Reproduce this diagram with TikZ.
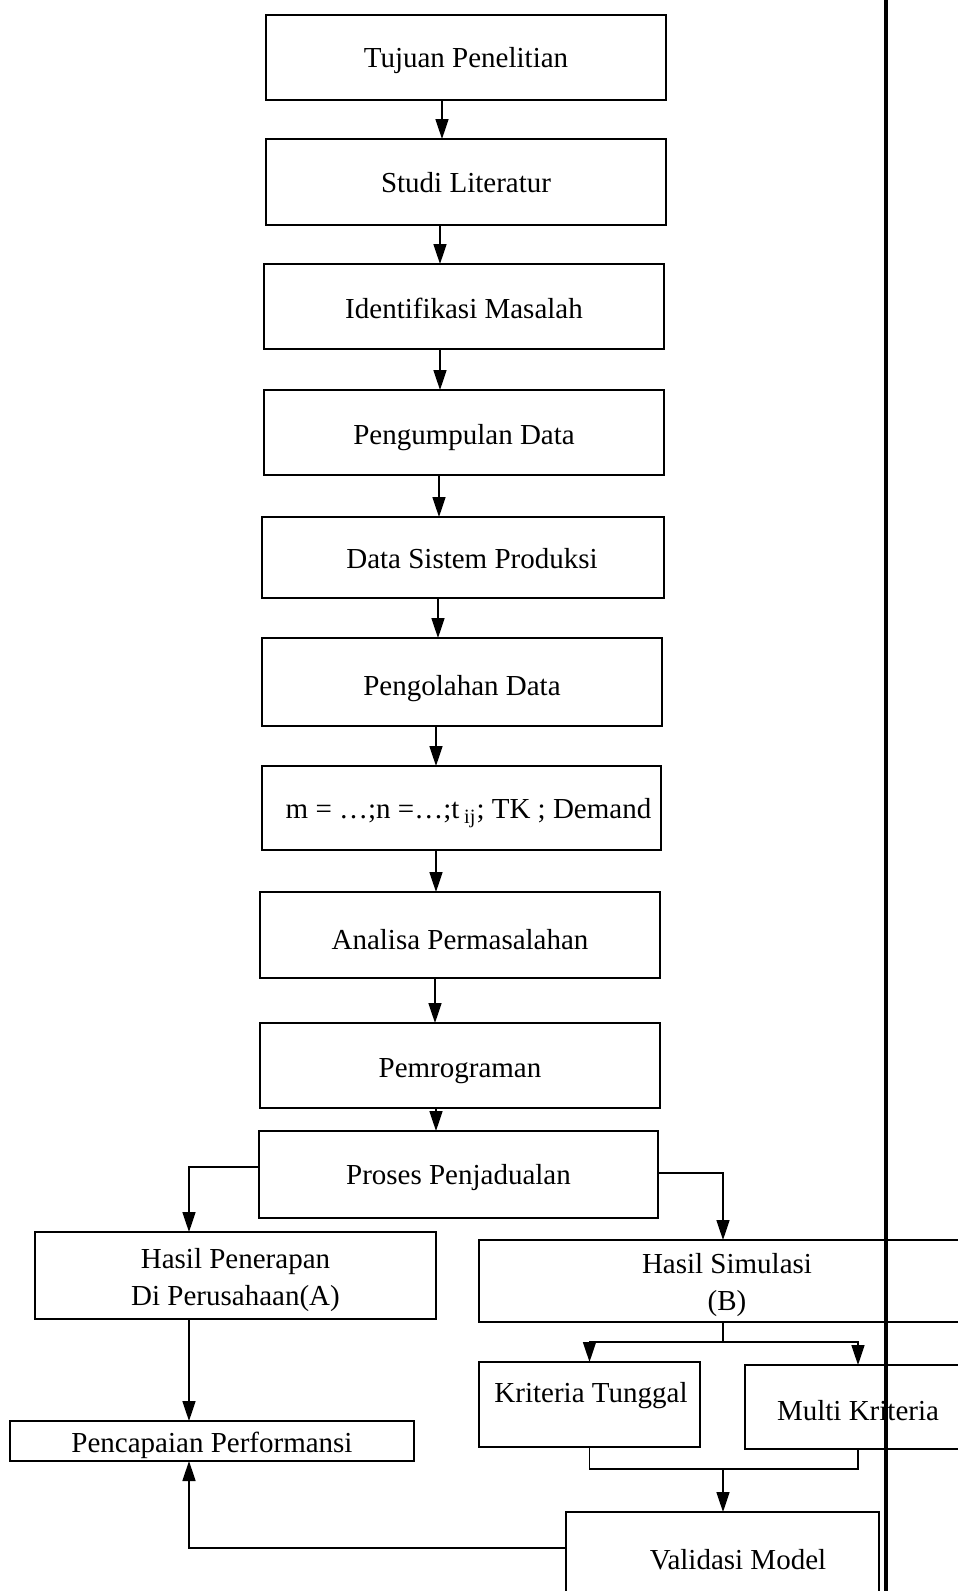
\documentclass[tikz,border=0pt]{standalone}
\usepackage{fontspec}
\setmainfont{Liberation Serif}
\usetikzlibrary{arrows.meta}
\begin{document}
\begin{tikzpicture}[x=0.5pt,y=-0.5pt,
  lbl/.style={font=\fontsize{14.5}{18.5}\selectfont},
  box/.style={draw, line width=1pt, inner sep=0pt, outer sep=0pt},
  txt/.style={inner sep=0pt, align=center, lbl, yshift=-2pt},
  link/.style={line width=0.8pt},
  arrow/.style={link, -{Triangle[length=10pt,width=6.5pt]}}]
\useasboundingbox (0,0) rectangle (958,1591);
\clip (0,0) rectangle (958,1591);
\fill[white] (0,0) rectangle (958,1591);

% main column of process steps
\node[box, minimum width=200pt,   minimum height=42.5pt] (t1)  at (466,57.5)     {};
\node[box, minimum width=200pt,   minimum height=43pt]   (t2)  at (466,182)      {};
\node[box, minimum width=200pt,   minimum height=42.5pt] (t3)  at (464,306.5)    {};
\node[box, minimum width=200pt,   minimum height=42.5pt] (t4)  at (464,432.5)    {};
\node[box, minimum width=201pt,   minimum height=40.5pt] (t5)  at (463,557.5)    {};
\node[box, minimum width=200pt,   minimum height=44pt]   (t6)  at (462,682)      {};
\node[box, minimum width=199.5pt, minimum height=42pt]   (t7)  at (461.5,808)    {};
\node[box, minimum width=200pt,   minimum height=43pt]   (t8)  at (460,935)      {};
\node[box, minimum width=200pt,   minimum height=42.5pt] (t9)  at (460,1065.5)   {};
\node[box, minimum width=199.5pt, minimum height=43.5pt] (t10) at (458.5,1174.5) {};

\node[txt, yshift=0.5pt]  (t1text)  at (t1)  {Tujuan Penelitian};
\node[txt, yshift=1.5pt]  (t2text)  at (t2)  {Studi Literatur};
\node[txt, yshift=1pt]    (t3text)  at (t3)  {Identifikasi Masalah};
\node[txt, yshift=-0.5pt] (t4text)  at (t4)  {Pengumpulan Data};
\node[txt, yshift=1.5pt, xshift=4.5pt] (t5text) at (t5) {Data Sistem Produksi};
\node[txt, yshift=-1.5pt] (t6text)  at (t6)  {Pengolahan Data};
\node[txt, yshift=-0.5pt, xshift=3.5pt] (t7text) at (t7) {m = \dots;n =\dots;t\,\textsubscript{ij}; TK ; Demand};
\node[txt, yshift=-0.5pt] (t8text)  at (t8)  {Analisa Permasalahan};
\node[txt, yshift=-1pt]   (t9text)  at (t9)  {Pemrograman};
\node[txt, yshift=0.5pt]  (t10text) at (t10) {Proses Penjadualan};

% two branches
\node[box, minimum width=200.5pt, minimum height=43.5pt] (hA) at (235.5,1275.5) {};
\node[box, minimum width=248pt,   minimum height=41pt]   (hB) at (727,1281)     {};
\node[box, minimum width=110.5pt, minimum height=42.5pt] (kT) at (589.5,1404.5) {};
\node[box, minimum width=113pt,   minimum height=42pt]   (mK) at (858,1407)     {};
\node[box, minimum width=202pt,   minimum height=20pt]   (pP) at (212,1441)     {};
\node[box, minimum width=156.5pt, minimum height=46.5pt] (vM) at (722.5,1558.5) {};

\node[txt, yshift=-0.3pt] (hAtext) at (hA) {Hasil Penerapan\\Di Perusahaan(A)};
\node[txt]                (hBtext) at (hB) {Hasil Simulasi\\(B)};
\node[txt]                (kTtext) at (591,1392) {Kriteria Tunggal};
\node[txt]                (mKtext) at (mK) {Multi Kriteria};
\node[txt]                (pPtext) at (pP) {Pencapaian Performansi};
\node[txt]                (vMtext) at (738,1556) {Validasi Model};

% vertical flow
\draw[arrow] (t1.south -| 442,0) -- (t2.north -| 442,0);
\draw[arrow] (t2.south -| 440,0) -- (t3.north -| 440,0);
\draw[arrow] (t3.south -| 440,0) -- (t4.north -| 440,0);
\draw[arrow] (t4.south -| 439,0) -- (t5.north -| 439,0);
\draw[arrow] (t5.south -| 438,0) -- (t6.north -| 438,0);
\draw[arrow] (t6.south -| 436,0) -- (t7.north -| 436,0);
\draw[arrow] (t7.south -| 436,0) -- (t8.north -| 436,0);
\draw[arrow] (t8.south -| 435,0) -- (t9.north -| 435,0);
\draw[arrow] (t9.south -| 436,0) -- (t10.north -| 436,0);

% branching from the scheduling step
\draw[arrow] (t10.west |- 0,1167) -| (hA.north -| 189,0);
\draw[arrow] (t10.east |- 0,1173) -| (hB.north -| 723,0);

% simulation results split into the two criteria
\coordinate (split) at (723,1342);
\draw[link] (hB.south -| split) -- (split);
\draw[arrow] (split) -| (kT.north);
\draw[arrow] (split) -| (mK.north);

% criteria merge into validation
\coordinate (merge) at (723,1469);
\draw[link] (kT.south) |- (merge) -| (mK.south);
\draw[arrow] (merge) -- (vM.north -| merge);

% performance achievement
\draw[arrow] (hA.south -| 189,0) -- (pP.north -| 189,0);
\draw[arrow] (vM.west |- 0,1548) -| (pP.south -| 189,0);

% page rule on the right
\draw[line width=1.8pt] (886,0) -- (886,1591);
\end{tikzpicture}
\end{document}
